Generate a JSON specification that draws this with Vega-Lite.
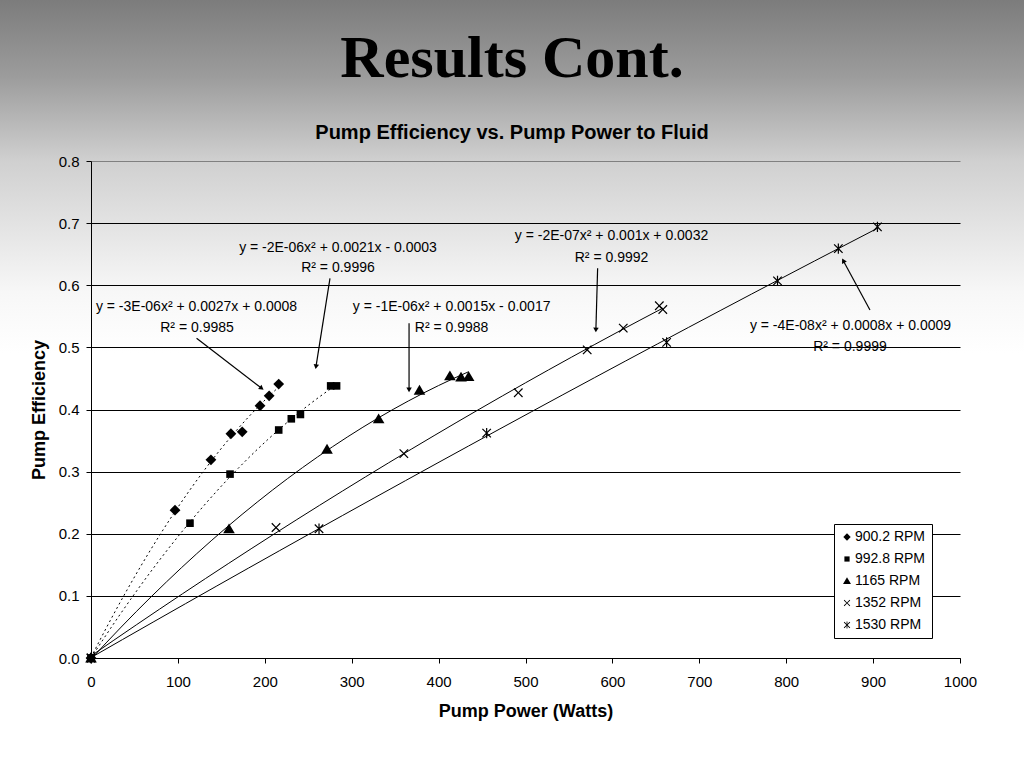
{
  "$schema": "https://vega.github.io/schema/vega-lite/v6.json",
  "width": 1024,
  "height": 768,
  "autosize": {"type": "none"},
  "padding": 0,
  "background": "#ffffff",
  "view": {
    "stroke": null,
    "fill": {"expr": "{gradient: 'linear', x1: 0, y1: 0, x2: 0, y2: 1, stops: [{offset: 0, color: '#7c7c7c'}, {offset: 0.1, color: '#9c9c9c'}, {offset: 0.21, color: '#d0d0d0'}, {offset: 0.38, color: '#f7f7f7'}, {offset: 0.46, color: '#ffffff'}, {offset: 1, color: '#ffffff'}]}"}
  },
  "title": {
    "text": "Results Cont.",
    "subtitle": "Pump Efficiency vs. Pump Power to Fluid",
    "anchor": "middle",
    "frame": "group",
    "font": "Liberation Serif",
    "fontSize": 60,
    "fontWeight": "bold",
    "color": "#000000",
    "subtitleFont": "Liberation Sans",
    "subtitleFontSize": 20,
    "subtitleFontWeight": "bold",
    "subtitleColor": "#000000",
    "subtitlePadding": 33,
    "offset": 0,
    "dy": 144
  },
  "datasets": {
    "points": [
      {"series": "900.2 RPM", "x": 0, "y": 0},
      {"series": "900.2 RPM", "x": 96.7, "y": 0.238},
      {"series": "900.2 RPM", "x": 138, "y": 0.319},
      {"series": "900.2 RPM", "x": 161, "y": 0.361},
      {"series": "900.2 RPM", "x": 174, "y": 0.364},
      {"series": "900.2 RPM", "x": 194.5, "y": 0.406},
      {"series": "900.2 RPM", "x": 205, "y": 0.422},
      {"series": "900.2 RPM", "x": 216, "y": 0.441},
      {"series": "992.8 RPM", "x": 0, "y": 0},
      {"series": "992.8 RPM", "x": 113.9, "y": 0.217},
      {"series": "992.8 RPM", "x": 160, "y": 0.296},
      {"series": "992.8 RPM", "x": 216, "y": 0.367},
      {"series": "992.8 RPM", "x": 230.5, "y": 0.385},
      {"series": "992.8 RPM", "x": 241, "y": 0.392},
      {"series": "992.8 RPM", "x": 275.8, "y": 0.438},
      {"series": "992.8 RPM", "x": 282.6, "y": 0.438},
      {"series": "1165 RPM", "x": 0, "y": 0},
      {"series": "1165 RPM", "x": 158.8, "y": 0.208},
      {"series": "1165 RPM", "x": 271.6, "y": 0.336},
      {"series": "1165 RPM", "x": 331, "y": 0.385},
      {"series": "1165 RPM", "x": 378, "y": 0.431},
      {"series": "1165 RPM", "x": 413, "y": 0.454},
      {"series": "1165 RPM", "x": 425.8, "y": 0.452},
      {"series": "1165 RPM", "x": 434.6, "y": 0.453},
      {"series": "1352 RPM", "x": 0, "y": 0},
      {"series": "1352 RPM", "x": 212.9, "y": 0.21},
      {"series": "1352 RPM", "x": 360, "y": 0.329},
      {"series": "1352 RPM", "x": 491.7, "y": 0.427},
      {"series": "1352 RPM", "x": 571, "y": 0.496},
      {"series": "1352 RPM", "x": 612.5, "y": 0.531},
      {"series": "1352 RPM", "x": 654, "y": 0.567},
      {"series": "1352 RPM", "x": 658, "y": 0.561},
      {"series": "1530 RPM", "x": 0, "y": 0},
      {"series": "1530 RPM", "x": 262.4, "y": 0.208},
      {"series": "1530 RPM", "x": 455.3, "y": 0.362},
      {"series": "1530 RPM", "x": 662.4, "y": 0.508},
      {"series": "1530 RPM", "x": 790, "y": 0.607},
      {"series": "1530 RPM", "x": 860, "y": 0.659},
      {"series": "1530 RPM", "x": 905, "y": 0.694}
    ],
    "labels": [
      {"x": 121.4, "y": 0.5645, "text": "y = -3E-06x² + 0.0027x + 0.0008"},
      {"x": 122, "y": 0.5307, "text": "R² = 0.9985"},
      {"x": 284.2, "y": 0.6605, "text": "y = -2E-06x² + 0.0021x - 0.0003"},
      {"x": 284.2, "y": 0.6273, "text": "R² = 0.9996"},
      {"x": 415, "y": 0.565, "text": "y = -1E-06x² + 0.0015x - 0.0017"},
      {"x": 415, "y": 0.531, "text": "R² = 0.9988"},
      {"x": 599, "y": 0.679, "text": "y = -2E-07x² + 0.001x + 0.0032"},
      {"x": 599, "y": 0.6443, "text": "R² = 0.9992"},
      {"x": 874, "y": 0.535, "text": "y = -4E-08x² + 0.0008x + 0.0009"},
      {"x": 873.4, "y": 0.501, "text": "R² = 0.9999"}
    ],
    "arrows": [
      {"x": 196.4, "y": 0.4341, "xs": 121.5, "ys": 0.5146, "angle": 127.6},
      {"x": 258.9, "y": 0.4689, "xs": 275, "ys": 0.611, "angle": 189},
      {"x": 366, "y": 0.4314, "xs": 366, "ys": 0.539, "angle": 180},
      {"x": 581, "y": 0.528, "xs": 583, "ys": 0.6273, "angle": 181.6},
      {"x": 865.7, "y": 0.6395, "xs": 896.4, "ys": 0.5602, "angle": 331.6}
    ]
  },
  "encoding": {
    "x": {
      "field": "x",
      "type": "quantitative",
      "scale": {"domain": [0, 1000], "range": [91, 960], "nice": false, "zero": false},
      "axis": {
        "title": "Pump Power (Watts)",
        "offset": -110,
        "values": [0, 100, 200, 300, 400, 500, 600, 700, 800, 900, 1000],
        "format": "d",
        "grid": false,
        "domainColor": "#000000",
        "tickColor": "#000000",
        "tickSize": 5,
        "labelFontSize": 15,
        "labelPadding": 11,
        "labelFlush": false,
        "labelOverlap": false,
        "titleFontSize": 18,
        "titlePadding": 13,
        "zindex": 1
      }
    },
    "y": {
      "field": "y",
      "type": "quantitative",
      "scale": {"domain": [0, 0.8], "range": [658, 161], "nice": false, "zero": false},
      "axis": {
        "title": "Pump Efficiency",
        "offset": -91,
        "values": [0, 0.1, 0.2, 0.3, 0.4, 0.5, 0.6, 0.7, 0.8],
        "format": ".1f",
        "grid": true,
        "gridColor": {"condition": {"test": "datum.value > 0.75", "value": "#808080"}, "value": "#000000"},
        "gridWidth": 1,
        "gridOpacity": 1,
        "domainColor": "#000000",
        "tickColor": "#000000",
        "tickSize": 5,
        "labelFontSize": 15,
        "labelPadding": 7,
        "titleFontSize": 18,
        "titlePadding": 10,
        "zindex": 1
      }
    }
  },
  "layer": [
    {
      "data": {"values": [{}]},
      "mark": {"type": "rect", "fill": "#ffffff", "stroke": "#808080", "strokeWidth": 1},
      "encoding": {
        "x": {"datum": 0, "type": "quantitative"},
        "x2": {"datum": 1000},
        "y": {"datum": 0, "type": "quantitative"},
        "y2": {"datum": 0.8}
      }
    },
    {
      "data": {"name": "points"},
      "transform": [
        {"filter": {"field": "series", "oneOf": ["900.2 RPM", "992.8 RPM"]}},
        {"regression": "y", "on": "x", "groupby": ["series"], "method": "poly", "order": 2}
      ],
      "mark": {"type": "line", "color": "#000000", "strokeWidth": 1, "strokeDash": [2, 3]},
      "encoding": {
        "detail": {"field": "series"}
      }
    },
    {
      "data": {"name": "points"},
      "transform": [
        {"filter": {"field": "series", "oneOf": ["1165 RPM", "1352 RPM", "1530 RPM"]}},
        {"regression": "y", "on": "x", "groupby": ["series"], "method": "poly", "order": 2}
      ],
      "mark": {"type": "line", "color": "#000000", "strokeWidth": 1},
      "encoding": {
        "detail": {"field": "series"}
      }
    },
    {
      "data": {"name": "points"},
      "mark": {"type": "point", "filled": true, "fill": "#000000", "strokeWidth": 0, "opacity": 1, "size": 64},
      "encoding": {
        "shape": {
          "field": "series",
          "type": "nominal",
          "scale": {
            "domain": ["900.2 RPM", "992.8 RPM", "1165 RPM", "1352 RPM", "1530 RPM"],
            "range": [
              "M0,-1.35L1.35,0L0,1.35L-1.35,0Z",
              "M-0.95,-0.95L0.95,-0.95L0.95,0.95L-0.95,0.95Z",
              "M0,-1.35L1.45,1.1L-1.45,1.1Z",
              "M0.95,-1.17L1.17,-0.95L0.21,0L1.17,0.95L0.95,1.17L0,0.21L-0.95,1.17L-1.17,0.95L-0.21,0L-1.17,-0.95L-0.95,-1.17L0,-0.21Z",
              "M0.95,-1.17L1.17,-0.95L0.21,0L1.17,0.95L0.95,1.17L0,0.21L-0.95,1.17L-1.17,0.95L-0.21,0L-1.17,-0.95L-0.95,-1.17L0,-0.21ZM-0.15,-1.3L0.15,-1.3L0.15,1.3L-0.15,1.3Z"
            ]
          },
          "legend": {
            "title": null,
            "orient": "none",
            "legendX": 834,
            "legendY": 524,
            "fillColor": "#ffffff",
            "strokeColor": "#000000",
            "padding": 6,
            "rowPadding": 8,
            "symbolSize": 30,
            "symbolFillColor": "#000000",
            "symbolStrokeWidth": 0,
            "labelFontSize": 14,
            "labelColor": "#000000",
            "labelOffset": 1,
            "cornerRadius": 0,
            "zindex": 2
          }
        }
      }
    },
    {
      "data": {"name": "arrows"},
      "mark": {"type": "rule", "color": "#000000", "strokeWidth": 1.2},
      "encoding": {
        "x2": {"field": "xs"},
        "y2": {"field": "ys"}
      }
    },
    {
      "data": {"name": "arrows"},
      "mark": {"type": "point", "shape": "triangle-up", "filled": true, "color": "#000000", "size": 30, "opacity": 1},
      "encoding": {
        "angle": {"field": "angle", "type": "quantitative", "scale": null}
      }
    },
    {
      "data": {"name": "labels"},
      "mark": {"type": "text", "fontSize": 14, "color": "#000000", "align": "center", "baseline": "middle"},
      "encoding": {
        "text": {"field": "text", "type": "nominal"}
      }
    }
  ],
  "config": {
    "font": "Liberation Sans",
    "axis": {
      "labelFont": "Liberation Sans",
      "labelColor": "#000000",
      "titleFont": "Liberation Sans",
      "titleFontWeight": "bold",
      "titleColor": "#000000"
    },
    "legend": {
      "labelFont": "Liberation Sans"
    }
  }
}
